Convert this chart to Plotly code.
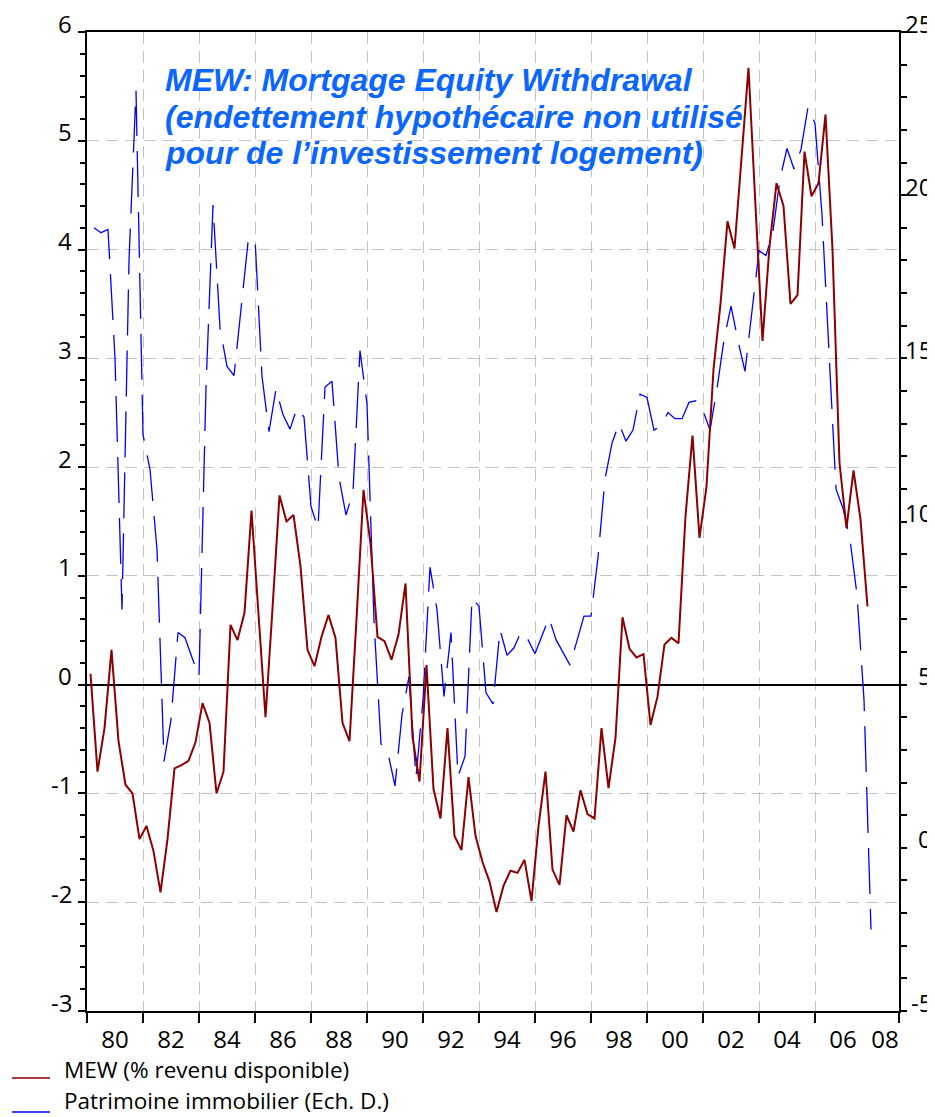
import plotly.graph_objects as go

START_YEAR = 1980

# MEW en % du revenu disponible, trimestriel 1980T1 - 2007T4 (echelle de gauche)
mew = [
    0.10, -0.80, -0.40, 0.32,     # 1980
    -0.52, -0.92, -1.00, -1.42,   # 1981
    -1.30, -1.53, -1.91, -1.42,   # 1982
    -0.77, -0.74, -0.70, -0.53,   # 1983
    -0.17, -0.35, -1.00, -0.80,   # 1984
    0.55, 0.41, 0.66, 1.60,       # 1985
    0.65, -0.30, 0.70, 1.74,      # 1986
    1.50, 1.56, 1.09, 0.32,       # 1987
    0.17, 0.44, 0.64, 0.43,       # 1988
    -0.35, -0.52, 0.60, 1.79,     # 1989
    1.30, 0.44, 0.40, 0.23,       # 1990
    0.46, 0.93, -0.48, -0.89,     # 1991
    0.18, -0.96, -1.23, -0.40,    # 1992
    -1.39, -1.52, -0.85, -1.39,   # 1993
    -1.63, -1.81, -2.09, -1.85,   # 1994
    -1.71, -1.73, -1.61, -1.99,   # 1995
    -1.30, -0.80, -1.70, -1.84,   # 1996
    -1.20, -1.35, -0.97, -1.19,   # 1997
    -1.23, -0.40, -0.95, -0.49,   # 1998
    0.62, 0.33, 0.25, 0.28,       # 1999
    -0.37, -0.11, 0.37, 0.43,     # 2000
    0.38, 1.55, 2.29, 1.35,       # 2001
    1.82, 2.90, 3.50, 4.26,       # 2002
    4.01, 4.86, 5.67, 4.40,       # 2003
    3.16, 4.03, 4.61, 4.40,       # 2004
    3.50, 3.58, 4.90, 4.49,       # 2005
    4.61, 5.24, 4.00, 2.04,       # 2006
    1.44, 1.97, 1.52, 0.72,       # 2007
]

# Patrimoine immobilier, trimestriel 1980T1 - 2007T4 (echelle de droite)
patrimoine = [
    19.00, 18.85, 18.95, 15.00,   # 1980
    7.30, 18.00, 23.20, 12.66,    # 1981
    11.60, 9.14, 2.65, 3.93,      # 1982
    6.60, 6.44, 5.83, 5.25,       # 1983
    14.10, 19.70, 15.94, 14.75,   # 1984
    14.47, 16.43, 18.55, 18.69,   # 1985
    14.45, 12.75, 14.06, 13.27,   # 1986
    12.83, 13.48, 13.20, 10.46,   # 1987
    9.80, 14.12, 14.30, 11.35,    # 1988
    10.20, 10.90, 15.24, 13.60,   # 1989
    6.94, 3.19, 2.90, 1.90,       # 1990
    4.08, 5.25, 2.15, 4.54,       # 1991
    8.60, 7.30, 4.64, 6.60,       # 1992
    2.19, 2.80, 7.66, 7.40,       # 1993
    4.75, 4.41, 6.69, 5.90,       # 1994
    6.13, 6.62, 6.38, 5.95,       # 1995
    6.50, 7.05, 6.38, 6.00,       # 1996
    5.60, 6.35, 7.10, 7.10,       # 1997
    8.90, 11.30, 12.40, 13.00,    # 1998
    12.46, 12.80, 13.90, 13.80,   # 1999
    12.80, 12.94, 13.34, 13.15,   # 2000
    13.15, 13.65, 13.70, 13.40,   # 2001
    12.80, 14.07, 15.57, 16.60,   # 2002
    15.54, 14.60, 16.55, 18.30,   # 2003
    18.15, 18.90, 20.50, 21.43,   # 2004
    20.80, 21.40, 22.70, 22.20,   # 2005
    19.40, 15.00, 11.00, 10.40,   # 2006
    9.45, 7.76, 4.54, -2.50,      # 2007
]

year_labels = ["80", "82", "84", "86", "88", "90", "92", "94",
               "96", "98", "00", "02", "04", "06", "08"]
year_ticks = list(range(1980, 2007, 2)) + [2009]
left_ticks = list(range(-3, 7))
right_ticks = list(range(-5, 26, 5))

X_END = 2009
FONT = "Open Sans"
RED = "#8B0000"
BLUE = "#0000FF"
TITLE_BLUE = "#0A66FF"
GRID = "#C4C4C4"

# MEW au milieu du trimestre, patrimoine en fin de trimestre
mew_x = [START_YEAR + (i + 0.5) / 4 for i in range(len(mew))]
pat_x = [START_YEAR + (i + 1) / 4 for i in range(len(patrimoine))]
label_pos = [(y + min(y + 2, X_END)) / 2 for y in range(1980, X_END, 2)]

fig = go.Figure()

fig.add_trace(go.Scatter(
    x=pat_x, y=patrimoine, mode="lines", yaxis="y",
    line=dict(color=BLUE, width=1.3, dash="46px,15px"),
    name="Patrimoine immobilier (Ech. D.)", showlegend=False,
))
fig.add_trace(go.Scatter(
    x=mew_x, y=mew, mode="lines", yaxis="y2",
    line=dict(color=RED, width=2),
    name="MEW (% revenu disponible)", showlegend=False,
))

tick_font = dict(family=FONT, size=24, color="black")

annotations = []
# libelles des deux echelles, un peu au-dessus de leur graduation
for v in left_ticks:
    annotations.append(dict(
        x=-0.016, xref="paper", y=v, yref="y2", xanchor="right", yanchor="middle",
        yshift=9, text=str(v), showarrow=False, font=tick_font,
    ))
for v in right_ticks:
    annotations.append(dict(
        x=1.0435, xref="paper", y=v, yref="y", xanchor="right", yanchor="middle",
        yshift=9, text=str(v), showarrow=False, font=tick_font,
    ))

title_lines = [
    "MEW: Mortgage Equity Withdrawal",
    "(endettement hypothécaire non utilisé",
    "pour de l’investissement logement)",
]
for i, line in enumerate(title_lines):
    annotations.append(dict(
        x=0.0936, xref="paper", y=0.951 - i * 0.0375, yref="paper",
        xanchor="left", yanchor="middle", showarrow=False,
        text="<b><i>" + line + "</i></b>",
        font=dict(family="Liberation Sans", size=32, color=TITLE_BLUE),
    ))

# legende : trait au niveau de la ligne de base du texte
legend_items = [("MEW (% revenu disponible)", RED, -0.0684, 0.009),
                ("Patrimoine immobilier (Ech. D.)", BLUE, -0.1032, 0.0115)]
shapes = []
for text, color, ybase, lift in legend_items:
    shapes.append(dict(type="line", xref="paper", yref="paper",
                       x0=-0.0924, x1=-0.0456, y0=ybase, y1=ybase,
                       line=dict(color=color, width=1.5)))
    annotations.append(dict(
        x=-0.0308, xref="paper", y=ybase + lift, yref="paper",
        xanchor="left", yanchor="middle", showarrow=False, text=text,
        font=dict(family=FONT, size=22.5, color="black"),
    ))

# la page ajoute une marge de 8 px autour du graphique
fig.update_layout(
    width=927, height=1109,
    margin=dict(l=79, r=36, t=24, b=106),
    paper_bgcolor="white", plot_bgcolor="white",
    showlegend=False,
    xaxis=dict(
        range=[START_YEAR, X_END], anchor="y",
        tickmode="array", tickvals=label_pos, ticktext=year_labels,
        ticks="", tickfont=tick_font, ticklabelstandoff=6,
        showgrid=False, zeroline=False,
        showline=True, linecolor="black", linewidth=2, mirror=True,
        minor=dict(tickmode="array", tickvals=year_ticks, ticks="outside",
                   ticklen=10, tickwidth=2, tickcolor="black",
                   showgrid=True, gridcolor=GRID, griddash="12px,7px", gridwidth=1.2),
    ),
    yaxis=dict(
        range=[-5, 25], side="right",
        tickmode="array", tickvals=right_ticks, showticklabels=False,
        ticks="outside", ticklen=6, tickwidth=1.5, tickcolor="black",
        minor=dict(dtick=1, tick0=0, ticks="outside", ticklen=6, tickwidth=1.5,
                   tickcolor="black", showgrid=False),
        showgrid=False, zeroline=False,
        showline=True, linecolor="black", linewidth=2,
    ),
    yaxis2=dict(
        range=[-3, 6], side="left", overlaying="y",
        tickmode="array", tickvals=left_ticks, showticklabels=False,
        ticks="outside", ticklen=7, tickwidth=1.5, tickcolor="black",
        minor=dict(dtick=0.2, tick0=0, ticks="outside", ticklen=5, tickwidth=1.5,
                   tickcolor="black", showgrid=False),
        showgrid=True, gridcolor=GRID, griddash="12px,7px", gridwidth=1.2,
        zeroline=True, zerolinecolor="black", zerolinewidth=1.5,
        showline=True, linecolor="black", linewidth=2,
    ),
    annotations=annotations,
    shapes=shapes,
)

fig.write_html("out.html")
